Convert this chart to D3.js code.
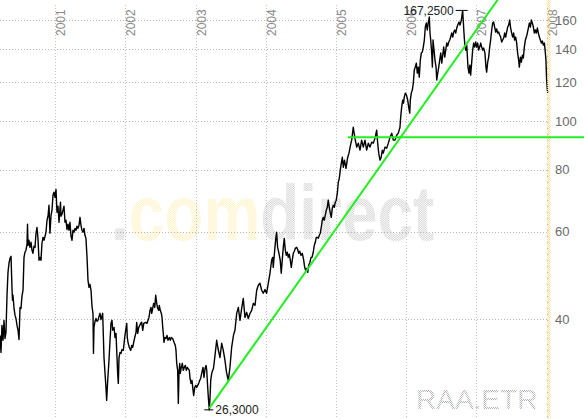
<!DOCTYPE html>
<html><head><meta charset="utf-8">
<script src="https://cdn.jsdelivr.net/npm/d3@7"></script>
<style>html,body{margin:0;padding:0;background:#fff;}svg{display:block;}</style>
</head><body>
<script>
const yearTicks = [2001, 2002, 2003, 2004, 2005, 2006, 2007, 2008];
const priceTicks = [40, 60, 80, 100, 120, 140, 160];

const dates = [
2000.212,2000.226,2000.240,2000.255,2000.269,2000.283,2000.297,2000.312,2000.326,2000.340,2000.354,2000.369,2000.383,2000.390,2000.397,2000.412,2000.426,2000.440,2000.454,2000.469,2000.483,2000.497,2000.511,2000.525,2000.540,2000.554,2000.568,2000.582,2000.597,2000.604,2000.611,2000.625,2000.639,2000.654,2000.668,2000.682,2000.696,2000.711,2000.725,2000.739,2000.753,2000.768,2000.782,2000.796,2000.810,2000.825,2000.839,2000.853,2000.867,2000.882,2000.896,2000.910,2000.924,2000.939,2000.953,2000.967,2000.981,2000.996,
2001.010,2001.024,2001.038,2001.053,2001.067,2001.074,2001.081,2001.095,2001.110,2001.124,2001.138,2001.152,2001.167,2001.181,2001.195,2001.209,2001.224,2001.238,2001.252,2001.266,2001.281,2001.295,2001.309,2001.323,2001.338,2001.352,2001.366,2001.380,2001.395,2001.409,2001.423,2001.437,2001.452,2001.466,2001.480,2001.494,2001.509,2001.523,2001.537,2001.544,2001.551,2001.566,2001.580,2001.594,2001.608,2001.623,2001.637,2001.651,2001.675,2001.694,2001.722,2001.732,2001.747,2001.765,2001.780,2001.794,2001.808,2001.818,2001.837,2001.851,2001.865,2001.875,2001.889,2001.898,2001.908,2001.922,2001.936,2001.950,2001.969,2001.989,
2002.003,2002.018,2002.026,2002.036,2002.055,2002.075,2002.089,2002.103,2002.117,2002.132,2002.150,2002.160,2002.174,2002.189,2002.217,2002.231,2002.246,2002.260,2002.288,2002.307,2002.321,2002.335,2002.350,2002.364,2002.374,2002.388,2002.402,2002.417,2002.431,2002.445,2002.459,2002.474,2002.482,2002.496,2002.511,2002.521,2002.531,2002.539,2002.549,2002.563,2002.578,2002.592,2002.606,2002.625,2002.639,2002.653,2002.673,2002.692,2002.710,2002.720,2002.730,2002.744,2002.753,2002.763,2002.773,2002.781,2002.796,2002.810,2002.824,2002.838,2002.853,2002.867,2002.881,2002.910,2002.920,2002.934,2002.948,2002.963,2002.972,2002.987,
2003.001,2003.015,2003.029,2003.044,2003.058,2003.072,2003.086,2003.105,2003.119,2003.134,2003.148,2003.158,2003.172,2003.181,2003.195,2003.205,2003.215,2003.229,2003.243,2003.254,2003.276,2003.300,2003.319,2003.347,2003.371,2003.394,2003.418,2003.440,2003.465,2003.489,2003.513,2003.539,2003.560,2003.585,2003.608,2003.632,2003.656,2003.679,2003.703,2003.727,2003.750,2003.775,2003.799,2003.822,2003.846,2003.870,2003.893,2003.917,2003.941,2003.964,2003.988,
2004.011,2004.035,2004.059,2004.083,2004.098,2004.106,2004.130,2004.144,2004.154,2004.168,2004.187,2004.205,2004.220,2004.234,2004.249,2004.263,2004.278,2004.292,2004.306,2004.320,2004.335,2004.349,2004.363,2004.377,2004.392,2004.406,2004.420,2004.440,2004.454,2004.469,2004.483,2004.501,2004.520,2004.540,2004.554,2004.568,2004.582,2004.597,2004.611,2004.629,2004.644,2004.658,2004.676,2004.691,2004.705,2004.719,2004.733,2004.748,2004.762,2004.776,2004.790,2004.805,2004.819,2004.833,2004.847,2004.862,2004.876,2004.890,2004.904,2004.919,2004.933,2004.947,2004.962,2004.976,2004.990,
2005.004,2005.019,2005.033,2005.047,2005.061,2005.076,2005.090,2005.104,2005.121,2005.143,2005.164,2005.185,2005.207,2005.224,2005.246,2005.270,2005.295,2005.318,2005.342,2005.366,2005.389,2005.413,2005.437,2005.461,2005.484,2005.509,2005.532,2005.556,2005.580,2005.594,2005.609,2005.627,2005.644,2005.660,2005.674,2005.698,2005.723,2005.746,2005.770,2005.794,2005.817,2005.841,2005.865,2005.888,2005.912,2005.922,2005.936,2005.951,2005.962,2005.973,2005.988,
2006.005,2006.022,2006.036,2006.051,2006.059,2006.073,2006.088,2006.102,2006.116,2006.130,2006.145,2006.159,2006.173,2006.187,2006.202,2006.216,2006.230,2006.244,2006.259,2006.273,2006.287,2006.301,2006.316,2006.330,2006.340,2006.350,2006.364,2006.374,2006.383,2006.397,2006.411,2006.426,2006.436,2006.450,2006.464,2006.478,2006.493,2006.507,2006.521,2006.535,2006.550,2006.564,2006.578,2006.592,2006.607,2006.621,2006.635,2006.649,2006.664,2006.678,2006.692,2006.706,2006.721,2006.735,2006.753,2006.767,2006.787,2006.805,2006.824,2006.834,2006.848,2006.863,2006.873,2006.881,2006.895,2006.908,2006.919,2006.934,2006.948,2006.962,2006.976,2006.991,
2007.005,2007.019,2007.033,2007.048,2007.062,2007.076,2007.090,2007.105,2007.123,2007.137,2007.147,2007.162,2007.176,2007.190,2007.204,2007.219,2007.233,2007.247,2007.261,2007.276,2007.290,2007.304,2007.318,2007.333,2007.347,2007.361,2007.375,2007.390,2007.404,2007.418,2007.432,2007.447,2007.461,2007.475,2007.489,2007.504,2007.518,2007.532,2007.546,2007.561,2007.575,2007.589,2007.603,2007.613,2007.628,2007.642,2007.656,2007.670,2007.684,2007.699,2007.713,2007.727,2007.741,2007.756,2007.770,2007.784,2007.798,2007.813,2007.827,2007.841,2007.855,2007.870,2007.884,2007.898,2007.913,2007.927,2007.941,2007.955,2007.970,2007.984,2007.992,
2008.002,2008.012,2008.021
];

const prices = [
37.13,34.32,38.89,36.29,39.81,36.60,37.66,44.70,49.73,51.86,53.04,53.55,46.15,43.68,44.70,42.06,40.73,40.15,38.89,38.01,36.42,42.26,42.06,44.49,45.76,53.29,54.57,55.08,56.62,62.12,56.35,57.69,55.82,57.15,55.08,54.31,56.09,55.82,59.59,61.24,58.19,52.59,53.29,52.59,56.89,58.47,57.69,58.75,59.87,63.30,64.46,67.84,59.59,64.76,66.30,71.05,72.06,70.38,
73.01,65.68,67.52,62.71,66.87,68.80,64.46,65.07,66.30,67.52,62.71,63.30,60.65,62.12,60.43,62.71,58.75,57.69,60.43,59.87,60.95,60.43,61.54,60.95,61.83,64.15,61.83,60.43,59.87,60.95,59.03,58.19,53.29,47.93,46.37,47.04,45.76,42.47,41.12,34.16,38.52,39.63,40.15,39.63,39.81,40.54,41.12,39.96,41.12,33.51,29.17,27.48,30.15,33.08,36.29,39.26,39.81,38.01,38.52,36.77,37.48,34.64,31.14,29.73,33.51,34.32,34.16,34.77,34.64,36.77,
38.01,39.26,36.77,35.95,35.11,34.64,35.45,35.11,35.95,36.77,37.66,39.44,37.48,38.52,39.26,39.44,38.01,39.26,39.44,39.26,39.81,40.34,41.70,42.26,41.12,42.06,43.07,42.26,44.70,43.07,42.06,41.70,42.67,41.70,41.12,40.34,38.52,37.48,35.95,36.77,36.60,37.13,36.29,36.77,36.29,36.77,36.60,35.95,35.45,34.64,32.62,31.58,27.10,31.14,32.62,31.14,32.01,32.62,31.58,32.01,32.31,31.58,32.01,31.58,30.41,29.73,30.15,28.78,28.11,29.17,
29.45,29.17,29.45,29.73,30.15,30.41,31.14,32.01,30.55,31.85,32.31,31.58,29.17,27.84,26.30,27.84,30.15,31.14,31.58,31.85,33.84,36.29,34.94,33.51,35.79,34.64,33.08,31.29,30.15,32.01,35.11,37.13,38.01,41.12,42.26,39.81,42.06,44.06,40.34,41.31,40.15,41.12,41.70,43.07,42.67,45.76,46.82,47.26,45.76,45.12,45.93,
45.12,47.26,49.50,52.59,53.29,50.88,55.82,58.47,59.87,55.82,54.31,52.59,49.50,52.59,55.82,58.19,55.08,53.80,54.57,53.29,54.06,52.59,50.88,52.59,54.31,54.83,55.55,55.82,55.28,54.31,54.83,53.80,54.31,52.59,50.88,50.20,50.64,49.73,51.37,52.10,53.29,53.29,54.57,56.35,57.15,58.47,58.47,58.19,59.03,59.59,61.24,63.30,64.15,63.30,64.76,66.30,67.19,69.45,67.19,65.38,64.15,66.87,67.84,67.19,68.80,
69.45,71.73,75.48,76.85,79.81,82.44,84.72,80.88,83.60,80.50,84.32,86.35,89.59,91.72,97.36,92.57,88.79,90.45,87.57,91.72,88.79,91.72,87.57,90.45,88.79,90.87,90.45,92.57,96.07,90.45,86.35,83.60,84.72,87.57,86.35,88.79,88.38,90.45,92.99,94.73,91.72,91.72,93.84,94.73,97.36,102.03,106.87,110.41,108.88,111.94,114.04,
112.97,110.41,106.87,103.93,110.41,114.04,115.65,119.46,126.88,128.64,131.05,125.12,128.64,122.82,132.90,137.28,137.92,141.15,145.82,154.86,157.76,152.74,158.49,162.20,150.62,145.82,137.28,128.64,145.82,139.21,132.90,128.64,121.14,125.12,128.64,132.90,137.28,131.05,135.98,141.15,134.75,139.21,143.79,141.80,144.46,145.82,147.85,150.62,147.85,151.32,152.74,150.62,154.16,156.27,158.49,156.27,159.98,167.25,150.62,143.79,139.21,142.44,134.75,128.64,125.12,129.82,123.94,131.66,139.21,143.79,141.15,144.46,
141.15,143.79,139.21,141.15,143.79,141.15,139.21,140.50,137.28,128.64,125.70,131.66,134.75,141.15,145.82,152.74,157.76,158.49,154.86,151.32,153.44,150.62,151.32,149.20,147.85,144.46,145.82,147.18,150.62,147.85,151.32,154.86,156.27,159.98,154.16,150.62,147.85,150.62,145.82,147.85,143.79,137.28,132.90,128.64,134.75,131.66,135.98,134.14,141.15,145.82,147.85,150.62,154.16,157.76,154.86,159.98,157.76,154.86,150.62,152.74,150.62,154.16,150.62,147.85,145.82,143.79,145.15,142.44,143.79,137.28,132.90,
121.14,115.65,114.04
];

const highMark = {date: 2006.805, price: 167.25};
const lowMark = {date: 2003.195, price: 26.30};
const supportLine = {from: 2005.171, to: 2008.54, price: 93.0};
const trendLine = {from: [2003.195, 26.5], to: [2007.305, 175.8]};
const lastDate = 2008.021;
const brand = [".", "com", "direct"];
const symbol = "RAA.ETR";

const W = 584, H = 419;
const x = d3.scaleLinear().domain([2001, 2008]).range([55.3, 546.5]);
const y = d3.scaleLog().domain([40, 160]).range([319.3, 20]);
const fmt = v => d3.format(".4f")(v).replace(".", ",");
const font = "'Liberation Sans', Arial, Helvetica, sans-serif";

const svg = d3.select("body").append("svg").attr("width", W).attr("height", H)
  .style("background", "#fff");

const defs = svg.append("defs");
function checker(id, color) {
  const p = defs.append("pattern").attr("id", id).attr("width", 2).attr("height", 2)
    .attr("patternUnits", "userSpaceOnUse");
  p.append("rect").attr("x", 0).attr("y", 0).attr("width", 1).attr("height", 1).attr("fill", color);
  p.append("rect").attr("x", 1).attr("y", 1).attr("width", 1).attr("height", 1).attr("fill", color);
}
checker("dotGray", "#d2d2d2");
checker("dotYellow", "#fff1c0");
checker("dotSym", "#b4b4b4");
checker("dotBand", "#fbd98c");
defs.append("clipPath").attr("id", "clipAll").append("rect").attr("width", W).attr("height", H);

// watermark (one text, tspans coloured)
const wm = svg.append("text").attr("transform", "translate(111,240) scale(0.82,1)")
  .attr("font-family", font).attr("font-weight", "bold").attr("font-size", 78);
wm.append("tspan").attr("fill", "url(#dotGray)").text(brand[0]);
wm.append("tspan").attr("fill", "url(#dotYellow)").text(brand[1]);
wm.append("tspan").attr("fill", "url(#dotGray)").text(brand[2]);
svg.append("text").attr("x", 416).attr("y", 408.5).attr("font-family", font).attr("font-size", 28)
  .attr("fill", "url(#dotSym)").text(symbol);

// grid
const plotRight = x(2008);
const grid = svg.append("g").attr("stroke", "#b8b8b8").attr("stroke-dasharray", "1,2").attr("shape-rendering", "crispEdges");
grid.selectAll("line.h").data(priceTicks).join("line").attr("class", "h")
  .attr("x1", 0).attr("x2", plotRight)
  .attr("y1", d => Math.round(y(d)) + 0.5).attr("y2", d => Math.round(y(d)) + 0.5);
grid.selectAll("line.v").data(yearTicks).join("line").attr("class", "v")
  .attr("stroke", "#c0c0cc")
  .attr("x1", d => Math.round(x(d)) + 0.5).attr("x2", d => Math.round(x(d)) + 0.5)
  .attr("y1", 5).attr("y2", H);

// year labels
svg.append("g").selectAll("text").data(yearTicks).join("text")
  .attr("transform", d => `translate(${x(d) + 10},36) rotate(-90)`)
  .attr("font-family", font).attr("font-size", 12).attr("fill", "#888")
  .text(d => d);

// price labels
svg.append("g").selectAll("text").data(priceTicks).join("text")
  .attr("x", 555).attr("y", d => y(d)).attr("dy", "0.36em")
  .attr("font-family", font).attr("font-size", 13).attr("fill", "#6a6a6a")
  .text(d => d);

// price line
const series = dates.map((d, i) => [d, prices[i]]);
svg.append("path").datum(series)
  .attr("fill", "none").attr("stroke", "#000").attr("stroke-width", 1.4).attr("stroke-linejoin", "round")
  .attr("d", d3.line().x(d => x(d[0])).y(d => y(d[1])));

// today band
svg.append("rect").attr("x", x(lastDate) - 1).attr("y", 0).attr("width", 3.5).attr("height", H)
  .attr("fill", "url(#dotBand)").attr("opacity", 0.9);

// trend lines
const g2 = svg.append("g").attr("clip-path", "url(#clipAll)").attr("stroke", "#22ee22").attr("stroke-width", 2);
g2.append("line").attr("x1", x(supportLine.from)).attr("x2", x(supportLine.to))
  .attr("y1", y(supportLine.price)).attr("y2", y(supportLine.price));
g2.append("line").attr("x1", x(trendLine.from[0])).attr("y1", y(trendLine.from[1]))
  .attr("x2", x(trendLine.to[0])).attr("y2", y(trendLine.to[1]));

// high / low markers
const hx = x(highMark.date), hy = y(highMark.price);
svg.append("line").attr("x1", hx - 7).attr("x2", hx + 5).attr("y1", hy).attr("y2", hy).attr("stroke", "#000");
svg.append("text").attr("x", hx - 9).attr("y", hy).attr("dy", "0.36em").attr("text-anchor", "end")
  .attr("font-family", font).attr("font-size", 12).attr("fill", "#222").text(fmt(highMark.price));
const lx = x(lowMark.date), ly = y(lowMark.price);
svg.append("line").attr("x1", lx - 5).attr("x2", lx + 4).attr("y1", ly).attr("y2", ly).attr("stroke", "#000");
svg.append("text").attr("x", lx + 6).attr("y", ly).attr("dy", "0.36em")
  .attr("font-family", font).attr("font-size", 12).attr("fill", "#222").text(fmt(lowMark.price));
</script>
</body></html>
